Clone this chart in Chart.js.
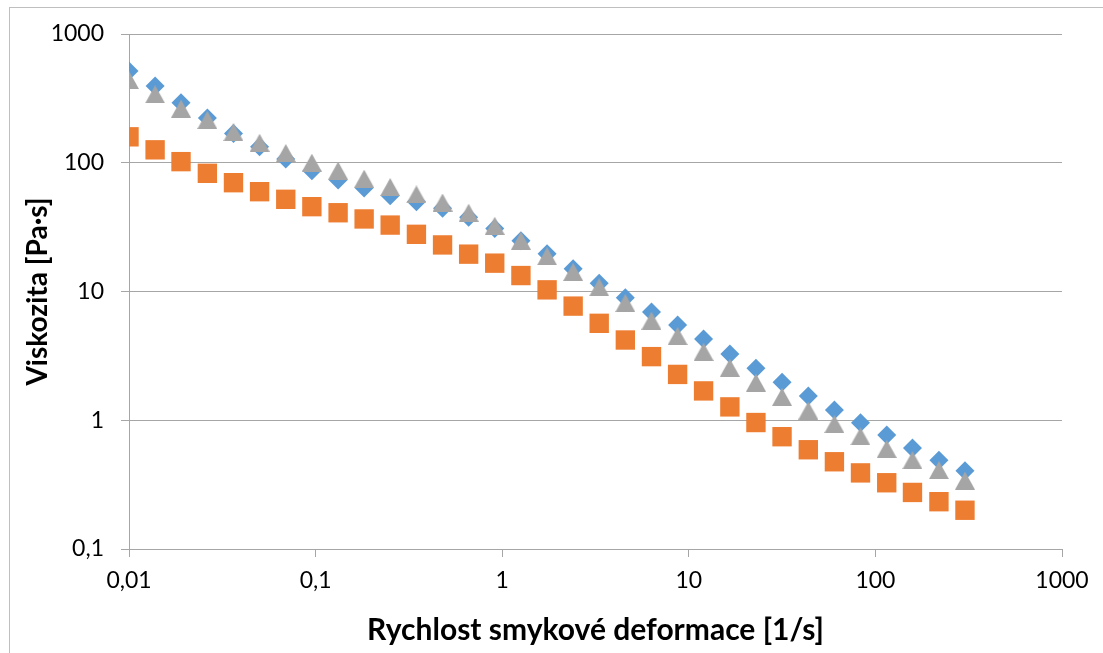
<!DOCTYPE html>
<html>
<head>
<meta charset="utf-8">
<title>Viskozita</title>
<script src="https://cdn.jsdelivr.net/npm/chart.js@4/dist/chart.umd.min.js"></script>
<style>
  html, body { margin: 0; padding: 0; background: #fff; }
  #wrap { width: 1103px; height: 653px; position: relative; }
</style>
</head>
<body>
<div id="wrap"><canvas id="viscChart" width="1103" height="653"></canvas></div>
<script>
// shear rate [1/s]
const shearRate = [0.01, 0.0138, 0.0190, 0.0263, 0.0363, 0.0501, 0.0692, 0.0955, 0.132, 0.182,
  0.251, 0.347, 0.479, 0.661, 0.912, 1.26, 1.74, 2.40, 3.31, 4.57,
  6.31, 8.71, 12.0, 16.6, 22.9, 31.6, 43.7, 60.3, 83.2, 115,
  158, 219, 302];

// viscosity [Pa·s]
const viscBlue = [516, 394, 293, 223, 169, 133, 107, 86.8, 73.5, 63.7,
  55.5, 49.8, 44.3, 37.7, 30.9, 24.8, 19.6, 15.0, 11.6, 8.95,
  6.93, 5.49, 4.28, 3.27, 2.53, 1.97, 1.54, 1.20, 0.957, 0.768,
  0.61, 0.49, 0.405];
const viscOrange = [159, 126, 102, 82.8, 70, 59.6, 52, 45.6, 40.9, 36.6,
  32.8, 27.8, 23.0, 19.5, 16.6, 13.3, 10.3, 7.7, 5.66, 4.2,
  3.12, 2.27, 1.69, 1.27, 0.96, 0.745, 0.59, 0.476, 0.39, 0.327,
  0.275, 0.233, 0.20];
const viscGray = [439, 340, 263, 215, 173, 143, 119, 100, 86.8, 75.2,
  64.8, 56.7, 49.1, 40.9, 32.4, 24.8, 18.8, 14.2, 10.8, 8.14,
  5.93, 4.51, 3.40, 2.56, 1.96, 1.52, 1.19, 0.935, 0.75, 0.60,
  0.49, 0.41, 0.34];

const xTicks = [0.01, 0.1, 1, 10, 100, 1000];
const xTickLabels = ['0,01', '0,1', '1', '10', '100', '1000'];
const yTicks = [0.1, 1, 10, 100, 1000];
const yTickLabels = ['0,1', '1', '10', '100', '1000'];

const BLUE = '#5B9BD5';
const ORANGE = '#ED7D31';
const GRAY = '#A5A5A5';
const LINE = '#A6A6A6';
const FONT = 'Lato, "Open Sans", sans-serif';

// triangle marker centred on its bounding box
function triangleMarker(w, h, color) {
  const c = document.createElement('canvas');
  c.width = w; c.height = h;
  const g = c.getContext('2d');
  g.fillStyle = color;
  g.beginPath();
  g.moveTo(w / 2, 0);
  g.lineTo(w, h);
  g.lineTo(0, h);
  g.closePath();
  g.fill();
  return c;
}

function pts(ys) {
  return shearRate.map((x, i) => ({ x: x, y: ys[i] }));
}

const frame = {
  id: 'frame',
  beforeDraw(chart) {
    const ctx = chart.ctx;
    ctx.save();
    ctx.fillStyle = '#fff';
    ctx.fillRect(0, 0, chart.width, chart.height);
    ctx.strokeStyle = '#BFBFBF';
    ctx.lineWidth = 1;
    ctx.strokeRect(9.5, 7.5, chart.width + 20, chart.height + 20);
    ctx.restore();
  }
};

new Chart(document.getElementById('viscChart'), {
  type: 'scatter',
  data: {
    datasets: [
      { label: 'A', data: pts(viscBlue), order: 2, backgroundColor: BLUE, borderColor: BLUE,
        borderWidth: 0, pointStyle: 'rectRot', pointRadius: 9.5 },
      { label: 'B', data: pts(viscOrange), order: 1, backgroundColor: ORANGE, borderColor: ORANGE,
        borderWidth: 0, pointStyle: 'rect', pointRadius: 13.7 },
      { label: 'C', data: pts(viscGray), order: 0, backgroundColor: GRAY, borderColor: GRAY,
        borderWidth: 0, pointStyle: triangleMarker(20, 18, GRAY), pointRadius: 10 }
    ]
  },
  options: {
    responsive: false,
    animation: false,
    layout: { padding: { left: 0, top: 34, right: 41, bottom: 0 } },
    plugins: { legend: { display: false }, tooltip: { enabled: false } },
    scales: {
      x: {
        type: 'logarithmic',
        min: 0.01, max: 1000,
        afterBuildTicks(s) { s.ticks = xTicks.map(v => ({ value: v })); },
        afterFit(s) { s.height = 104; },
        ticks: {
          callback: (v) => xTickLabels[xTicks.indexOf(v)],
          color: '#000', font: { family: FONT, size: 23 }, padding: 10, maxRotation: 0
        },
        grid: { drawOnChartArea: false, color: LINE, tickLength: 8 },
        border: { color: LINE },
        title: {
          display: true, text: 'Rychlost smykové deformace [1/s]', color: '#000',
          font: { family: FONT, size: 30, weight: 'bold' }, padding: { top: 0, bottom: 5 }
        }
      },
      y: {
        type: 'logarithmic',
        min: 0.1, max: 1000,
        afterBuildTicks(s) { s.ticks = yTicks.map(v => ({ value: v })); },
        afterFit(s) { s.width = 129; },
        ticks: {
          callback: (v) => yTickLabels[yTicks.indexOf(v)],
          color: '#000', font: { family: FONT, size: 23 }, padding: 17
        },
        grid: { color: LINE, tickLength: 8 },
        border: { color: LINE },
        title: {
          display: true, text: 'Viskozita [Pa·s]', color: '#000',
          font: { family: FONT, size: 28, weight: 'bold' }, padding: { top: 21, bottom: 0 }
        }
      }
    }
  },
  plugins: [frame]
});
</script>
</body>
</html>
